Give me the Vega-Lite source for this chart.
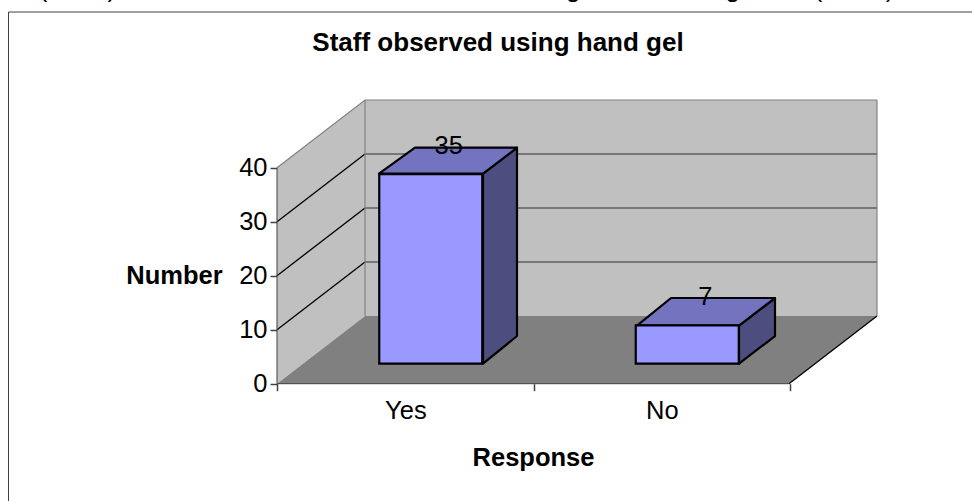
{"$schema":"https://vega.github.io/schema/vega-lite/v6.json","width":972,"height":501,"padding":0,"autosize":{"type":"none"},"background":"white","config":{"view":{"stroke":null},"font":"Liberation Sans"},
"datasets":{
"bars":[{"response":"Yes","value":35},{"response":"No","value":7}],
"heading":[{"label":"Staff observed using hand gel","pos":0.8633,"level":63.09}],
"room":[
{"face":"side wall","pos":0,"low":0,"high":40},{"face":"side wall","pos":0.34375,"low":12.54,"high":52.54},
{"face":"back wall","pos":0.34375,"low":12.54,"high":52.54},{"face":"back wall","pos":2.34375,"low":12.54,"high":52.54},
{"face":"floor","pos":0,"low":0,"high":0},{"face":"floor","pos":0.34375,"low":0,"high":12.54},{"face":"floor","pos":2,"low":0,"high":12.54},{"face":"floor","pos":2.34375,"low":12.54,"high":12.54}],
"boxes":[
{"bar":"Yes","face":"side","pos":0.8047,"low":3.7,"high":38.89},{"bar":"Yes","face":"side","pos":0.9375,"low":8.83,"high":43.7},
{"bar":"Yes","face":"top","pos":0.3984,"low":38.89,"high":38.89},{"bar":"Yes","face":"top","pos":0.5391,"low":38.89,"high":43.7},{"bar":"Yes","face":"top","pos":0.8047,"low":38.89,"high":43.7},{"bar":"Yes","face":"top","pos":0.9375,"low":43.7,"high":43.7},
{"bar":"No","face":"side","pos":1.8047,"low":3.7,"high":10.74},{"bar":"No","face":"side","pos":1.9453,"low":8.83,"high":15.87},
{"bar":"No","face":"top","pos":1.4063,"low":10.74,"high":10.74},{"bar":"No","face":"top","pos":1.5391,"low":10.74,"high":15.87},{"bar":"No","face":"top","pos":1.8047,"low":10.74,"high":15.87},{"bar":"No","face":"top","pos":1.9453,"low":15.87,"high":15.87}],
"lines":[
{"line":"back10","kind":"back grid","pos":0.34375,"level":22.54},{"line":"back10","kind":"back grid","pos":2.34375,"level":22.54},
{"line":"back20","kind":"back grid","pos":0.34375,"level":32.54},{"line":"back20","kind":"back grid","pos":2.34375,"level":32.54},
{"line":"back30","kind":"back grid","pos":0.34375,"level":42.54},{"line":"back30","kind":"back grid","pos":2.34375,"level":42.54},
{"line":"side10","kind":"side grid","pos":0,"level":10},{"line":"side10","kind":"side grid","pos":0.34375,"level":22.54},
{"line":"side20","kind":"side grid","pos":0,"level":20},{"line":"side20","kind":"side grid","pos":0.34375,"level":32.54},
{"line":"side30","kind":"side grid","pos":0,"level":30},{"line":"side30","kind":"side grid","pos":0.34375,"level":42.54},
{"line":"floorEdge","kind":"side grid","pos":2,"level":0},{"line":"floorEdge","kind":"side grid","pos":2.34375,"level":12.54},
{"line":"wallTop","kind":"edge","pos":0,"level":40},{"line":"wallTop","kind":"edge","pos":0.34375,"level":52.54},{"line":"wallTop","kind":"edge","pos":2.34375,"level":52.54},
{"line":"cornerL","kind":"edge","pos":0.34375,"level":12.54},{"line":"cornerL","kind":"edge","pos":0.34375,"level":52.54},
{"line":"cornerR","kind":"edge","pos":2.34375,"level":12.54},{"line":"cornerR","kind":"edge","pos":2.34375,"level":52.54},
{"line":"axisX","kind":"axis","pos":0,"level":0},{"line":"axisX","kind":"axis","pos":2,"level":0},
{"line":"axisY","kind":"axis","pos":0,"level":0},{"line":"axisY","kind":"axis","pos":0,"level":40},
{"line":"frameTop","kind":"axis","pos":-1.0488,"level":68.83},{"line":"frameTop","kind":"axis","pos":2.71484,"level":68.83},
{"line":"frameLeft","kind":"axis","pos":-1.0488,"level":68.83},{"line":"frameLeft","kind":"axis","pos":-1.0488,"level":-21.72}],
"cropped":[{"glyph":"(","pos":-0.914,"level":71.6},{"glyph":")","pos":-0.645,"level":71.6},{"glyph":"g","pos":1.157,"level":71.6},{"glyph":"g","pos":1.78,"level":71.6},{"glyph":"(","pos":2.114,"level":71.6},{"glyph":")","pos":2.395,"level":71.6}]
},
"layer":[
{"data":{"name":"room"},"mark":{"type":"area","interpolate":"linear"},"encoding":{
"x":{"field":"pos","type":"quantitative","scale":{"domain":[-1.08203,2.71484],"range":[0,972],"nice":false,"zero":false},"axis":null},
"y":{"field":"low","type":"quantitative","stack":null,"scale":{"domain":[-21.722,71.056],"nice":false,"zero":false},"axis":{"values":[0,10,20,30,40],"orient":"left","offset":-277,"domain":false,"grid":false,"tickSize":7,"tickColor":"#404040","tickWidth":1.5,"labelFont":"Liberation Sans","labelFontSize":25.5,"labelColor":"black","labelPadding":3,"title":"Number","titleFont":"Liberation Sans","titleFontSize":25.5,"titleFontWeight":"bold","titleColor":"black","titleAngle":0,"titleAlign":"center","titleBaseline":"middle","titleX":-103,"titleY":275}},
"y2":{"field":"high"},
"fill":{"field":"face","type":"nominal","scale":{"domain":["side wall","back wall","floor"],"range":["#C0C0C0","#C0C0C0","#808080"]},"legend":null}}},
{"data":{"name":"lines"},"mark":{"type":"line"},"encoding":{
"x":{"field":"pos","type":"quantitative","scale":{"domain":[-1.08203,2.71484],"range":[0,972],"nice":false,"zero":false},"axis":null},
"y":{"field":"level","type":"quantitative","scale":{"domain":[-21.722,71.056],"nice":false,"zero":false},"axis":null},
"detail":{"field":"line"},
"stroke":{"field":"kind","type":"nominal","scale":{"domain":["back grid","side grid","edge","axis"],"range":["#5F5F5F","#000000","#808080","#404040"]},"legend":null},
"strokeWidth":{"field":"kind","type":"ordinal","scale":{"domain":["back grid","side grid","edge","axis"],"range":[1.5,1,2,2]},"legend":null}}},
{"data":{"name":"boxes"},"mark":{"type":"area","interpolate":"linear","stroke":"black","strokeWidth":2.2,"strokeJoin":"round"},"encoding":{
"x":{"field":"pos","type":"quantitative","scale":{"domain":[-1.08203,2.71484],"range":[0,972],"nice":false,"zero":false},"axis":null},
"y":{"field":"low","type":"quantitative","stack":null,"scale":{"domain":[-21.722,71.056],"nice":false,"zero":false},"axis":null},
"y2":{"field":"high"},
"detail":{"field":"bar"},
"fill":{"field":"face","type":"nominal","scale":{"domain":["top","side"],"range":["#7373BF","#4D4D80"]},"legend":null}}},
{"data":{"name":"bars"},"mark":{"type":"bar","color":"#9999FF","stroke":"black","strokeWidth":2.2,"width":103,"yOffset":-20.5,"y2Offset":-20},"encoding":{
"x":{"field":"response","type":"nominal","sort":null,"scale":{"type":"band","domain":["Yes","No"],"range":[302.5,815.5],"padding":0},"axis":{"orient":"bottom","offset":-117.3,"domain":false,"grid":false,"bandPosition":1,"tickExtra":true,"tickOffset":-25.4,"tickSize":7,"tickColor":"#404040","tickWidth":1.5,"labelAngle":0,"labelFont":"Liberation Sans","labelFontSize":25.5,"labelColor":"black","labelPadding":8,"title":"Response","titleFont":"Liberation Sans","titleFontSize":25.5,"titleFontWeight":"bold","titleColor":"black","titleAnchor":"middle","titleBaseline":"middle","titleX":533,"titleY":74}},
"y":{"field":"value","type":"quantitative","stack":null,"scale":{"domain":[-21.722,71.056],"nice":false,"zero":false},"axis":null},
"y2":{"datum":0}}},
{"data":{"name":"bars"},"mark":{"type":"text","font":"Liberation Sans","fontSize":25.5,"color":"black","baseline":"middle","align":"center","dx":18,"dy":-49},"encoding":{
"x":{"field":"response","type":"nominal","sort":null,"scale":{"type":"band","domain":["Yes","No"],"range":[302.5,815.5],"padding":0},"axis":null},
"y":{"field":"value","type":"quantitative","scale":{"domain":[-21.722,71.056],"nice":false,"zero":false},"axis":null},
"text":{"field":"value","type":"quantitative"}}},
{"data":{"name":"heading"},"mark":{"type":"text","font":"Liberation Sans","fontSize":26,"fontWeight":"bold","color":"black","baseline":"middle","align":"center"},"encoding":{
"x":{"field":"pos","type":"quantitative","scale":{"domain":[-1.08203,2.71484],"range":[0,972],"nice":false,"zero":false},"axis":null},
"y":{"field":"level","type":"quantitative","scale":{"domain":[-21.722,71.056],"nice":false,"zero":false},"axis":null},
"text":{"field":"label"}}},
{"data":{"name":"cropped"},"mark":{"type":"text","font":"Liberation Sans","fontSize":26,"color":"black","baseline":"alphabetic","align":"center"},"encoding":{
"x":{"field":"pos","type":"quantitative","scale":{"domain":[-1.08203,2.71484],"range":[0,972],"nice":false,"zero":false},"axis":null},
"y":{"field":"level","type":"quantitative","scale":{"domain":[-21.722,71.056],"nice":false,"zero":false},"axis":null},
"text":{"field":"glyph"}}}
],
"resolve":{"scale":{"x":"independent","fill":"independent"},"axis":{"y":"independent"}}}
